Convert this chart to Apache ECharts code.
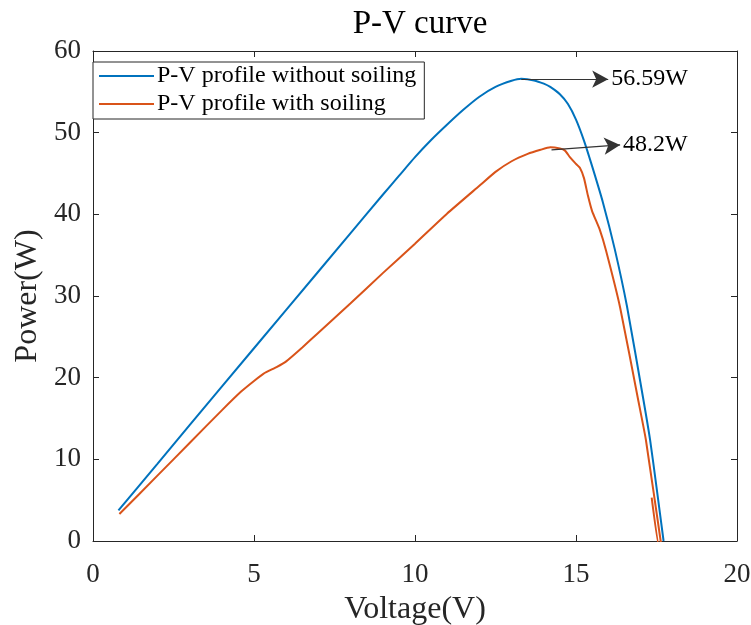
<!DOCTYPE html>
<html>
<head>
<meta charset="utf-8">
<script src="https://cdn.jsdelivr.net/npm/echarts@6/dist/echarts.min.js"></script>
<style>
  html, body { margin: 0; padding: 0; background: #fff; }
  #chart { width: 751px; height: 625px; }
</style>
</head>
<body>
<div id="chart"></div>
<script>
// P-V characteristic of a PV module, clean vs. soiled
const cleanVoltage = [0.79, 2, 4, 6, 8, 9, 9.5, 10, 10.5, 11, 11.5, 12, 12.5, 13, 13.3, 13.7, 14.0, 14.2, 14.5, 14.75, 15.0, 15.25, 15.5, 15.84, 16.2, 16.58, 17.08, 17.3, 17.5, 17.72];
const cleanPower   = [3.75, 9.45, 18.9, 28.3, 37.7, 42.4, 44.7, 47.0, 49.1, 51.0, 52.8, 54.4, 55.6, 56.35, 56.59, 56.4, 56.0, 55.6, 54.7, 53.5, 51.6, 49.0, 45.9, 41.4, 35.8, 28.8, 17.6, 12.4, 6.6, 0];

const soiledVoltage = [0.82, 2, 3, 4, 4.6, 5.0, 5.3, 5.7, 6.0, 6.5, 7, 8, 9, 10, 11, 12, 12.5, 13, 13.5, 13.9, 14.2, 14.5, 14.66, 14.81, 14.97, 15.12, 15.25, 15.37, 15.5, 15.74, 15.93, 16.37, 16.93, 17.17, 17.63, 17.68, 17.6, 17.35];
const soiledPower   = [3.3, 8.0, 12.0, 16.0, 18.3, 19.6, 20.5, 21.3, 22.0, 23.7, 25.5, 29.1, 32.8, 36.4, 40.1, 43.5, 45.2, 46.5, 47.4, 47.9, 48.2, 48.05, 47.8, 47.0, 46.3, 45.7, 44.4, 42.3, 40.4, 38.1, 35.6, 28.6, 17.3, 12.4, 0, -1, -1, 5.3];

const xTicks = { min: 0, max: 20, interval: 5 };
const yTicks = { min: 0, max: 60, interval: 10 };

// Maximum power points with their arrow end points
const cleanPeak  = { from: [13.3, 56.59], to: [16.0, 56.55], label: '56.59W' };
const soiledPeak = { from: [14.24, 47.9], to: [16.37, 48.5], label: '48.2W' };

const seriesNames = ['P-V profile without soiling', 'P-V profile with soiling'];

const FONT = '"Liberation Serif", "Times New Roman", serif';
const AXIS = '#262626';

function pairs(xs, ys) { return xs.map((x, i) => [x, ys[i]]); }

function arrow(p) {
  return {
    silent: true,
    animation: false,
    symbol: ['none', 'arrow'],
    symbolSize: [13, 16],
    lineStyle: { color: '#333', width: 1.2, type: 'solid' },
    itemStyle: { color: '#000' },
    label: {
      show: true, position: 'end', distance: 3,
      formatter: p.label, color: '#000', fontFamily: FONT, fontSize: 24
    },
    emphasis: { disabled: true },
    data: [[{ coord: p.from }, { coord: p.to }]]
  };
}

const boxAxisX = (pos, showLabel) => ({
  type: 'value', position: pos, ...xTicks,
  axisLine: { show: true, onZero: false, lineStyle: { color: AXIS, width: 1 } },
  axisTick: { show: true, inside: true, length: 6, lineStyle: { color: AXIS } },
  axisLabel: { show: showLabel, color: AXIS, fontFamily: FONT, fontSize: 27, margin: 20 },
  splitLine: { show: false }
});
const boxAxisY = (pos, showLabel) => ({
  type: 'value', position: pos, ...yTicks,
  axisLine: { show: true, onZero: false, lineStyle: { color: AXIS, width: 1 } },
  axisTick: { show: true, inside: true, length: 6, lineStyle: { color: AXIS } },
  axisLabel: { show: showLabel, color: AXIS, fontFamily: FONT, fontSize: 27, margin: 12 },
  splitLine: { show: false }
});

const chart = echarts.init(document.getElementById('chart'), null, { renderer: 'canvas' });

const xMain = boxAxisX('bottom', true);
xMain.name = 'Voltage(V)';
xMain.nameLocation = 'middle';
xMain.nameGap = 53;
xMain.nameTextStyle = { color: AXIS, fontFamily: FONT, fontSize: 32 };

const yMain = boxAxisY('left', true);
yMain.name = 'Power(W)';
yMain.nameLocation = 'middle';
yMain.nameGap = 42;
yMain.nameTextStyle = { color: AXIS, fontFamily: FONT, fontSize: 32 };

chart.setOption({
  animation: false,
  backgroundColor: '#fff',
  title: {
    text: 'P-V curve', left: 415, top: 3, textAlign: 'center',
    textStyle: { color: '#000', fontFamily: FONT, fontSize: 33, fontWeight: 'normal' }
  },
  grid: { left: 93, right: 14, top: 51, bottom: 84, containLabel: false, outerBoundsMode: 'none' },
  legend: {
    orient: 'vertical', left: 93, top: 62,
    padding: [2, 8, 3, 6], itemGap: 4, itemWidth: 55, itemHeight: 2,
    icon: 'rect',
    backgroundColor: '#fff', borderColor: AXIS, borderWidth: 1, borderRadius: 0,
    textStyle: { color: '#000', fontFamily: FONT, fontSize: 24, lineHeight: 24, padding: [0, 0, 0, -2] },
    data: seriesNames
  },
  xAxis: [xMain, boxAxisX('top', false)],
  yAxis: [yMain, boxAxisY('right', false)],
  series: [
    {
      name: seriesNames[0], type: 'line', xAxisIndex: 0, yAxisIndex: 0,
      data: pairs(cleanVoltage, cleanPower),
      symbol: 'none', smooth: 0.2, clip: true,
      lineStyle: { color: '#0072BD', width: 2 }, itemStyle: { color: '#0072BD' },
      markLine: arrow(cleanPeak)
    },
    {
      name: seriesNames[1], type: 'line', xAxisIndex: 0, yAxisIndex: 0,
      data: pairs(soiledVoltage, soiledPower),
      symbol: 'none', smooth: 0.15, clip: true,
      lineStyle: { color: '#D95319', width: 2 }, itemStyle: { color: '#D95319' },
      markLine: arrow(soiledPeak)
    }
  ]
});
</script>
</body>
</html>
